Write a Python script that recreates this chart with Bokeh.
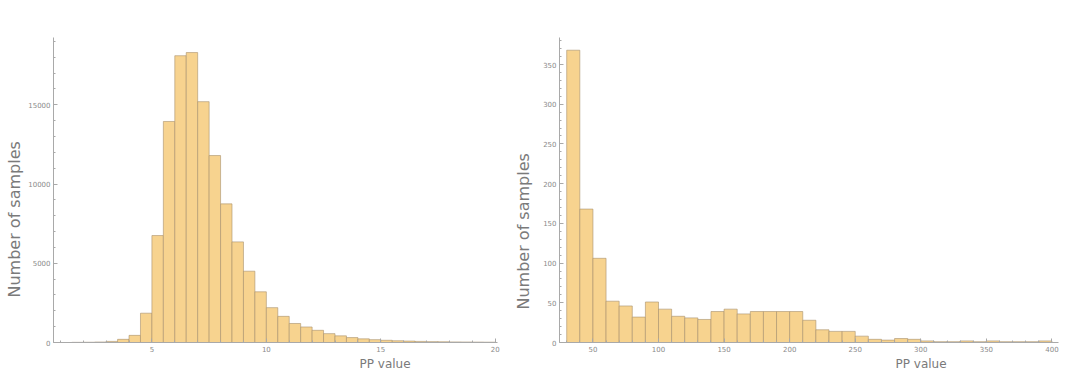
from bokeh.plotting import figure
from bokeh.layouts import row
from bokeh.models import Title, FixedTicker, Range1d
from bokeh.embed import file_html
from bokeh.resources import INLINE

# Left histogram: PP value bins (width 0.5) and counts
left_edges = [1.5 + 0.5 * i for i in range(38)]
left_counts = [10, 15, 30, 70, 200, 450, 1850, 6750, 13950, 18100, 18300, 15200,
               11800, 8750, 6350, 4500, 3200, 2200, 1650, 1200, 980, 770, 560, 420,
               310, 230, 180, 140, 110, 90, 70, 55, 45, 35, 30, 25, 20]
left_xticks = [5, 10, 15, 20]
left_yticks = [0, 5000, 10000, 15000]

# Right histogram: PP value bins (width 10) and counts
right_edges = [30 + 10 * i for i in range(38)]
right_counts = [368, 168, 106, 52, 46, 32, 51, 42, 33, 31, 29, 39, 42, 36, 39, 39,
                39, 39, 28, 16, 14, 14, 8, 4, 3, 5, 4, 2, 1, 1, 2, 1, 2, 1, 1, 1, 2]
right_xticks = [50, 100, 150, 200, 250, 300, 350, 400]
right_yticks = [0, 50, 100, 150, 200, 250, 300, 350]

x_title = "PP value"
y_title = "Number of samples"

FILL = "#f7d38f"
EDGE = "#a8916c"
AX = "#a9a9a9"
TXT = "#8a8a8a"
TTL = "#7a7a7a"


def make(width, bl, br, bt, xr, yr, edges, counts, xt, yt, xoff, yoff, ystand):
    p = figure(width=width, height=370, output_backend="svg", toolbar_location=None,
               x_range=Range1d(*xr), y_range=Range1d(*yr),
               min_border_left=bl, min_border_right=br, min_border_top=bt,
               min_border_bottom=25)
    p.quad(left=edges[:-1], right=edges[1:], bottom=0, top=counts,
           fill_color=FILL, line_color=EDGE, line_width=0.6)
    p.grid.visible = False
    p.outline_line_color = None
    for ax in (p.xaxis[0], p.yaxis[0]):
        ax.axis_line_color = AX
        ax.major_tick_line_color = AX
        ax.minor_tick_line_color = AX
        ax.major_tick_in = 4
        ax.major_tick_out = 0
        ax.minor_tick_in = 2
        ax.minor_tick_out = 0
        ax.major_label_text_font_size = "7px"
        ax.major_label_text_color = TXT
        ax.major_label_text_font = "DejaVu Sans"
        ax.major_label_standoff = 3
    dx = xt[1] - xt[0]
    p.xaxis[0].ticker = FixedTicker(ticks=xt, minor_ticks=[
        xt[0] - dx + dx * k / 5.0 for k in range(0, 5 * (len(xt) + 1))])
    p.yaxis[0].ticker = FixedTicker(ticks=yt, minor_ticks=[
        yt[1] * k / 5.0 for k in range(0, 5 * (len(yt) + 1))])
    p.add_layout(Title(text=x_title, align="left", offset=xoff, standoff=0,
                       text_font="DejaVu Sans", text_font_size="12px",
                       text_font_style="normal", text_color=TTL), "below")
    p.add_layout(Title(text=y_title, align="left", offset=yoff, standoff=ystand,
                       text_font="DejaVu Sans", text_font_size="16px",
                       text_font_style="normal", text_color=TTL), "left")
    return p


left = make(502, 52, 5, 37, (0.7, 20.1), (0, 19250), left_edges, left_counts,
            left_xticks, left_yticks, 306, 45, 4)
right = make(564, 57, 8, 25, (24.5, 405), (0, 384), right_edges, right_counts,
             right_xticks, right_yticks, 336, 33, 15)

layout = row(left, right)
open("out.html", "w").write(file_html(layout, INLINE))
